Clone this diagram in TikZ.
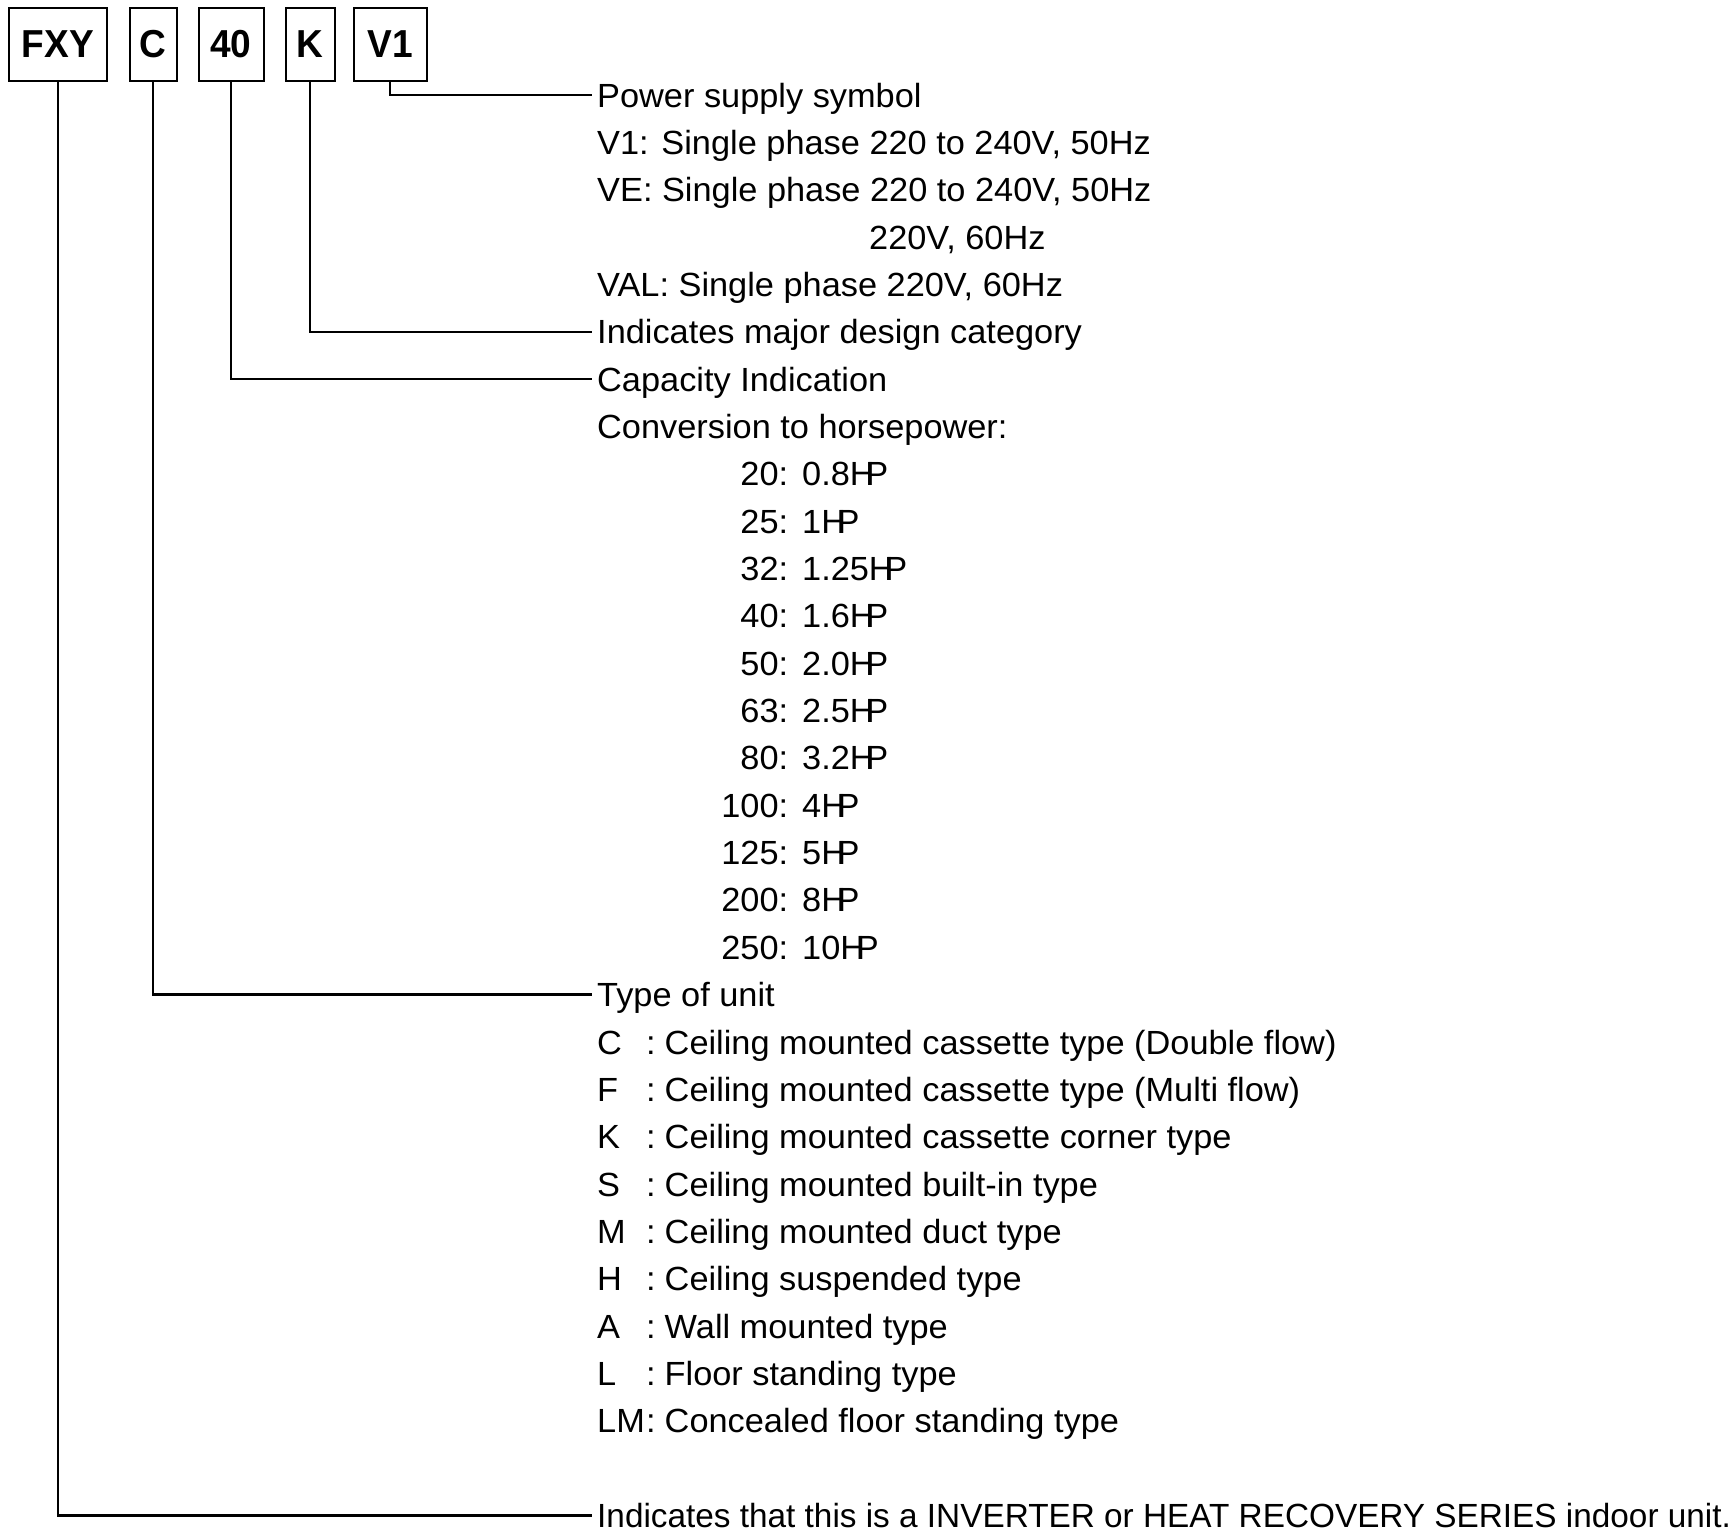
\documentclass[tikz,border=0pt]{standalone}
\usepackage{fontspec}
\setmainfont{Liberation Sans}[FakeStretch=1.025]
\newfontfamily\lastfont{Liberation Sans}[FakeStretch=0.995]
\newfontfamily\boxfont{Liberation Sans}[FakeStretch=0.95]
\newcommand{\hpu}{H\kern-0.28em P}
\begin{document}
\begin{tikzpicture}[x=1pt,y=-1pt,
  codebox/.style={draw,line width=2pt,minimum height=73pt,inner sep=0pt,
    font=\boxfont\bfseries\fontsize{39}{40}\selectfont},
  lab/.style={anchor=west,inner sep=0pt,text height=24pt,text depth=0pt,
    font=\fontsize{33.5}{38}\selectfont},
  conn/.style={line width=2.4pt}]
\useasboundingbox (0,0) rectangle (1735,1537);
\fill[white] (0,0) rectangle (1735,1537);
% code boxes
\node[codebox,minimum width=98pt] (fxy) at (58,44) {FXY};
\node[codebox,minimum width=47pt] (c)   at (153,44) {C};
\node[codebox,minimum width=65pt] (cap) at (231,44) {40};
\node[codebox,minimum width=49pt] (k)   at (310,44) {K};
\node[codebox,minimum width=73pt] (v)   at (390,44) {V1};
% labels
\def\LX{597}
\node[lab] (l0) at (\LX,95) {Power supply symbol};
\node[lab] (l1) at (\LX,142.35) {V1: Single phase 220 to 240V, 50Hz};
\node[lab] (l2) at (\LX,189.7) {VE: Single phase 220 to 240V, 50Hz};
\node[lab] (l3) at (869,237.05) {220V, 60Hz};
\node[lab] (l4) at (\LX,284.4) {VAL: Single phase 220V, 60Hz};
\node[lab] (l5) at (\LX,331.75) {Indicates major design category};
\node[lab] (l6) at (\LX,379.1) {Capacity Indication};
\node[lab] (l7) at (\LX,426.45) {Conversion to horsepower:};
\def\CX{788}
\node[lab] (h1) at (\CX,473.8) {\llap{20:}\hspace{14pt}0.8\hpu};
\node[lab] (h2) at (\CX,521.15) {\llap{25:}\hspace{14pt}1\hpu};
\node[lab] (h3) at (\CX,568.5) {\llap{32:}\hspace{14pt}1.25\hpu};
\node[lab] (h4) at (\CX,615.85) {\llap{40:}\hspace{14pt}1.6\hpu};
\node[lab] (h5) at (\CX,663.2) {\llap{50:}\hspace{14pt}2.0\hpu};
\node[lab] (h6) at (\CX,710.55) {\llap{63:}\hspace{14pt}2.5\hpu};
\node[lab] (h7) at (\CX,757.9) {\llap{80:}\hspace{14pt}3.2\hpu};
\node[lab] (h8) at (\CX,805.25) {\llap{100:}\hspace{14pt}4\hpu};
\node[lab] (h9) at (\CX,852.6) {\llap{125:}\hspace{14pt}5\hpu};
\node[lab] (h10) at (\CX,899.95) {\llap{200:}\hspace{14pt}8\hpu};
\node[lab] (h11) at (\CX,947.3) {\llap{250:}\hspace{14pt}10\hpu};
\node[lab] (l19) at (\LX,994.65) {Type of unit};
\def\TX{646}
\newcommand{\tl}[1]{\llap{\makebox[49pt][l]{#1}}:\hspace{9pt}}
\node[lab] (t1) at (\TX,1042) {\tl{C}Ceiling mounted cassette type (Double flow)};
\node[lab] (t2) at (\TX,1089.35) {\tl{F}Ceiling mounted cassette type (Multi flow)};
\node[lab] (t3) at (\TX,1136.7) {\tl{K}Ceiling mounted cassette corner type};
\node[lab] (t4) at (\TX,1184.05) {\tl{S}Ceiling mounted built-in type};
\node[lab] (t5) at (\TX,1231.4) {\tl{M}Ceiling mounted duct type};
\node[lab] (t6) at (\TX,1278.75) {\tl{H}Ceiling suspended type};
\node[lab] (t7) at (\TX,1326.1) {\tl{A}Wall mounted type};
\node[lab] (t8) at (\TX,1373.45) {\tl{L}Floor standing type};
\node[lab] (t9) at (\TX,1420.8) {\tl{LM}Concealed floor standing type};
\node[lab,font=\lastfont\fontsize{33.5}{38}\selectfont] (l30) at (\LX,1515.5) {Indicates that this is a INVERTER or HEAT RECOVERY SERIES indoor unit.};
% connectors
\draw[conn] (v.south) |- ([xshift=-5pt]l0.west);
\draw[conn] (k.south) |- ([xshift=-5pt]l5.west);
\draw[conn] (cap.south) |- ([xshift=-5pt]l6.west);
\draw[conn] (c.south) |- ([xshift=-5pt]l19.west);
\draw[conn] (fxy.south) |- ([xshift=-5pt]l30.west);
\end{tikzpicture}
\end{document}
